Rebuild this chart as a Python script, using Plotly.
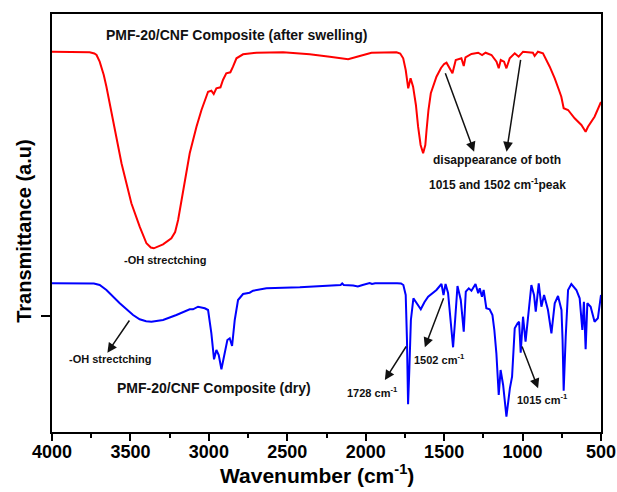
import plotly.graph_objects as go

# FTIR spectra of PMF-20/CNF composite, transmittance in arbitrary (offset) units
swollen_wn = [4000, 3850, 3760, 3730, 3716, 3696, 3670, 3653, 3621, 3557,
              3494, 3441, 3398, 3370, 3351, 3320, 3292, 3239, 3215, 3196,
              3164, 3122, 3079, 3047, 3005, 2984, 2969, 2952, 2926, 2910,
              2889, 2863, 2846, 2824, 2782, 2697, 2527, 2357, 2229, 2112,
              2038, 1963, 1804, 1780, 1761, 1745, 1729, 1714, 1698, 1680,
              1666, 1650, 1634, 1620, 1612, 1600, 1585, 1549, 1520, 1500,
              1485, 1464, 1447, 1426, 1390, 1375, 1364, 1326, 1283, 1258,
              1236, 1198, 1166, 1152, 1139, 1118, 1103, 1082, 1050, 1025,
              997, 934, 923, 902, 870, 827, 795, 768, 753, 738,
              710, 668, 625, 598, 583, 541, 503, 500]
swollen_t = [380.3, 380.3, 379.7, 378.5, 377.0, 370.3, 357.0, 345.3, 318.7, 268.7,
             228.7, 205.3, 188.7, 184.5, 183.7, 185.5, 187.7, 193.7, 200.0, 212.0,
             242.0, 278.7, 305.3, 322.0, 340.3, 341.3, 338.0, 343.7, 344.7, 352.0,
             358.7, 359.7, 365.3, 373.7, 377.7, 379.3, 379.7, 377.7, 375.3, 372.7,
             376.0, 379.3, 379.7, 378.5, 373.7, 362.0, 343.7, 353.7, 345.3, 327.0,
             305.3, 287.0, 278.7, 287.0, 302.0, 322.0, 338.7, 355.3, 364.0, 368.0,
             369.3, 363.7, 358.7, 372.0, 373.7, 366.0, 374.7, 378.0, 379.3, 377.0,
             379.3, 377.0, 370.3, 363.7, 372.0, 370.3, 363.7, 373.7, 378.7, 375.3,
             380.3, 379.3, 376.0, 380.3, 378.7, 365.3, 353.7, 342.0, 335.3, 323.7,
             322.0, 313.7, 307.0, 300.3, 305.3, 315.3, 328.7, 330.0]

dry_wn = [4000, 3800, 3733, 3696, 3653, 3568, 3483, 3441, 3400, 3366, 3292, 3207, 3122, 3101, 3069,
          3026, 3005, 2984, 2967, 2952, 2937, 2920, 2899, 2882, 2867, 2852, 2835, 2814, 2782, 2740,
          2718, 2633, 2420, 2300, 2200, 2160, 2150, 2140, 2080, 2050, 2020, 1990, 1975, 1960, 1940,
          1800, 1775, 1760, 1745, 1737, 1730, 1722, 1712, 1696, 1670, 1649, 1625, 1602, 1549, 1517,
          1504, 1491, 1475, 1460, 1443, 1430, 1415, 1394, 1375, 1362, 1343, 1326, 1300, 1283, 1273,
          1259, 1248, 1231, 1210, 1192, 1180, 1167, 1152, 1140, 1124, 1103, 1081, 1067, 1050, 1032,
          1022, 1012, 997, 981, 954, 944, 927, 916, 897, 880, 863, 838, 816, 795, 774, 752, 745, 738,
          725, 710, 689, 657, 636, 619, 609, 598, 587, 566, 541, 520, 500]
dry_t = [148.7, 148.7, 148.5, 147.0, 142.0, 128.7, 117.0, 112.7, 110.7, 110.3, 112.0, 117.0, 122.7,
         122.7, 125.3, 123.7, 122.0, 98.7, 72.7, 82.0, 77.0, 62.7, 78.7, 92.0, 93.7, 86.0, 112.0, 132.0,
         138.0, 139.3, 141.3, 143.7, 144.7, 145.5, 146.0, 147.0, 148.5, 147.0, 146.5, 145.5, 147.0,
         148.5, 149.0, 148.0, 148.7, 148.7, 148.5, 147.0, 137.0, 92.0, 27.7, 62.0, 112.0, 133.7, 128.0,
         122.7, 130.0, 135.3, 142.0, 148.0, 137.0, 148.0, 139.0, 112.0, 84.7, 112.0, 146.0, 132.0,
         100.3, 140.3, 143.7, 141.3, 148.0, 138.7, 143.7, 135.3, 142.0, 123.7, 122.7, 117.0, 102.0,
         78.7, 37.0, 62.0, 47.0, 15.3, 43.7, 55.3, 103.7, 108.7, 110.3, 79.3, 115.3, 90.3, 130.3, 147.0,
         137.0, 120.3, 148.7, 125.3, 137.0, 122.0, 98.7, 128.7, 136.0, 122.0, 92.0, 41.3, 95.3, 142.0,
         148.0, 142.0, 133.7, 102.0, 130.3, 82.7, 128.7, 125.3, 110.3, 113.7, 137.0]

x_ticks = [4000, 3500, 3000, 2500, 2000, 1500, 1000, 500]
y_tick = [116]

# text labels: (text, wavenumber, transmittance, font size)
labels = [
    ("PMF-20/CNF Composite (after swelling)", 2822, 397, 14),
    ("-OH strectching", 3275, 172, 11),
    ("disappearance of both", 1161, 272, 12),
    ("1015 and 1502 cm<sup>-1</sup>peak", 1158, 248, 12),
    ("-OH strectching", 3627, 72.7, 11),
    ("PMF-20/CNF Composite (dry)", 2970, 43.7, 14),
    ("1728 cm<sup>-1</sup>", 1955, 39.7, 11),
    ("1502 cm<sup>-1</sup>", 1530, 72.7, 11),
    ("1015 cm<sup>-1</sup>", 871, 32.7, 11),
]

# arrows: (tail wn, tail T, head wn, head T)
arrows = [
    (1496, 360.3, 1309, 280.3),
    (1011, 373.7, 1102, 280.3),
    (3500, 113.0, 3647, 79.3),
    (1736, 87.0, 1878, 52.0),
    (1500, 135.3, 1623, 84.7),
    (1007, 87.0, 901, 43.7),
]

FONT = "Liberation Sans, Arial, sans-serif"

fig = go.Figure()
fig.add_trace(go.Scatter(x=swollen_wn, y=swollen_t, mode="lines",
                         line=dict(color="#ff0000", width=2), showlegend=False))
fig.add_trace(go.Scatter(x=dry_wn, y=dry_t, mode="lines",
                         line=dict(color="#0000ff", width=2), showlegend=False))

annotations = []
for text, xv, yv, size in labels:
    annotations.append(dict(x=xv, y=yv, xref="x", yref="y", text=text, showarrow=False,
                            font=dict(family=FONT, size=size, color="#111111", weight="bold"),
                            xanchor="center", yanchor="middle"))
for tx, ty, hx, hy in arrows:
    annotations.append(dict(x=hx, y=hy, ax=tx, ay=ty, xref="x", yref="y", axref="x", ayref="y",
                            text="", showarrow=True, arrowhead=2, arrowsize=1.3, arrowwidth=1.5,
                            arrowcolor="#111111"))

# axis titles placed as paper-anchored labels
annotations.append(dict(x=0.4818, y=-0.1005, xref="paper", yref="paper",
                        text="Wavenumber (cm<sup>-1</sup>)", showarrow=False,
                        xanchor="center", yanchor="middle",
                        font=dict(family=FONT, size=21, color="black", weight="bold")))
annotations.append(dict(x=-0.051, y=0.479, xref="paper", yref="paper",
                        text="Transmittance (a.u)", showarrow=False, textangle=-90,
                        xanchor="center", yanchor="middle",
                        font=dict(family=FONT, size=20, color="black", weight="bold")))

fig.update_layout(
    width=617, height=492,
    margin=dict(l=52, r=16, t=14, b=60),
    paper_bgcolor="white", plot_bgcolor="white",
    annotations=annotations,
    font=dict(family=FONT, color="black"),
)
fig.update_xaxes(
    range=[4000, 500], tickvals=x_ticks, ticks="outside", ticklen=7, tickwidth=1.5,
    tickcolor="black", showline=True, linecolor="black", linewidth=1.5, mirror=True,
    showgrid=False, zeroline=False, automargin=False, ticklabelstandoff=-4,
    tickfont=dict(family=FONT, size=18, color="black", weight="bold"),
    minor=dict(dtick=250, tick0=500, ticks="outside", ticklen=4, tickwidth=1.5, tickcolor="black"),
)
fig.update_yaxes(
    range=[0, 418], tickvals=y_tick, showticklabels=False, ticks="outside", ticklen=9,
    tickwidth=1.5, tickcolor="black", showline=True, linecolor="black", linewidth=1.5,
    mirror=True, showgrid=False, zeroline=False, automargin=False,
)

fig.write_html("out.html")
